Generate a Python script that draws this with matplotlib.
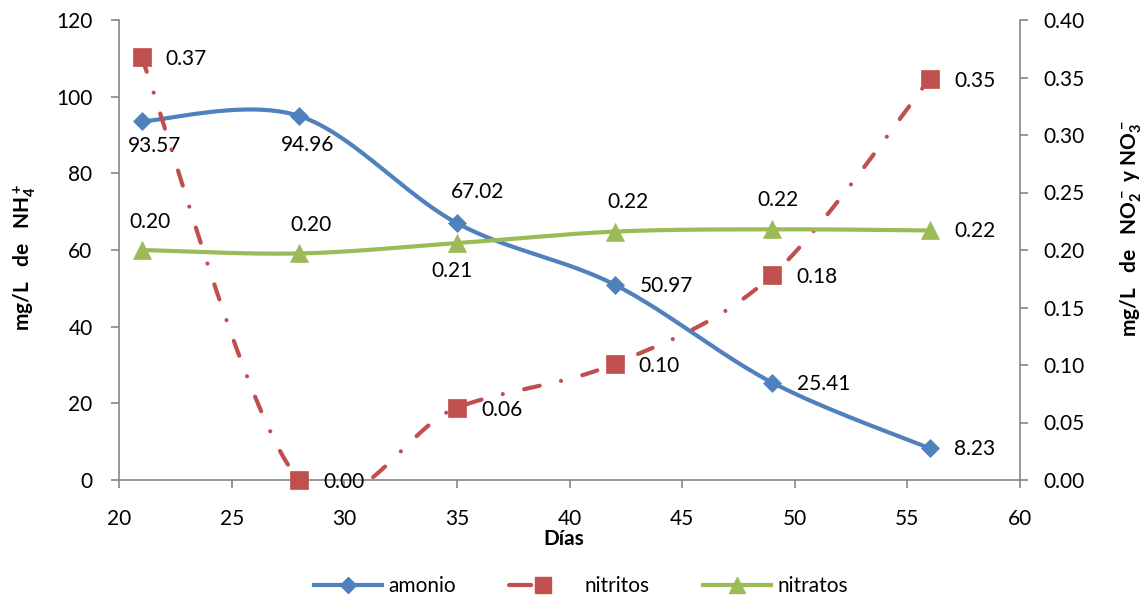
import numpy as np
import matplotlib
matplotlib.use("Agg")
import matplotlib.pyplot as plt
from matplotlib.lines import Line2D
from matplotlib.ticker import FormatStrFormatter

plt.rcParams['font.family'] = ['Lato', 'DejaVu Sans']
plt.rcParams['mathtext.fontset'] = 'custom'
plt.rcParams['mathtext.rm'] = 'Lato'
plt.rcParams['mathtext.bf'] = 'Lato:bold'
plt.rcParams['lines.scale_dashes'] = False

# ---- data ----
dias = [21, 28, 35, 42, 49, 56]
amonio = [93.57, 94.96, 67.02, 50.97, 25.41, 8.23]
nitritos = [0.368, 0.00, 0.063, 0.101, 0.178, 0.349]
nitratos = [0.200, 0.197, 0.206, 0.216, 0.218, 0.217]

x_ticks = [20, 25, 30, 35, 40, 45, 50, 55, 60]
left_ticks = [0, 20, 40, 60, 80, 100, 120]
right_ticks = [0.00, 0.05, 0.10, 0.15, 0.20, 0.25, 0.30, 0.35, 0.40]

# ---- style ----
C_AMO = '#4F81BD'
C_NI2 = '#C0504D'
C_NI3 = '#9BBB59'
AXIS_GRAY = '#868686'
FS = 15
LW = 3.0

# label placement per point: (mode, dx_px, dy_px); dy positive = downwards
pos_amonio = [('c', 13, 25), ('c', 8, 29), ('c', 21, -31),
              ('r', 25, 1), ('r', 25, 1), ('r', 24, 1)]
pos_nitritos = [('r', 24, 2)] * 6
pos_nitratos = [('c', 8, -28), ('c', 12, -28), ('c', -5, 28),
                ('c', 13, -30), ('c', 6, -29), ('r', 24, 1)]


def smooth_path(x, y, n=60):
    """Cubic Bezier smoothing through every point (Catmull-Rom control points)."""
    pts = np.column_stack([x, y]).astype(float)
    out = []
    for i in range(len(pts) - 1):
        p0 = pts[i - 1] if i > 0 else pts[i]
        p1, p2 = pts[i], pts[i + 1]
        p3 = pts[i + 2] if i + 2 < len(pts) else pts[i + 1]
        c1 = p1 + (p2 - p0) / 6.0
        c2 = p2 - (p3 - p1) / 6.0
        t = np.linspace(0, 1, n)[:, None]
        seg = ((1 - t) ** 3) * p1 + 3 * ((1 - t) ** 2) * t * c1 \
            + 3 * (1 - t) * t ** 2 * c2 + t ** 3 * p2
        out.append(seg if i == 0 else seg[1:])
    return np.vstack(out)


def put_labels(axis, xs, ys, fmt, places):
    for xv, yv, (mode, dx, dy) in zip(xs, ys, places):
        ha = 'left' if mode == 'r' else 'center'
        axis.annotate(fmt.format(yv), (xv, yv),
                      xytext=(dx * 0.72, -dy * 0.72), textcoords='offset points',
                      ha=ha, va='center', fontsize=FS, color='black',
                      annotation_clip=False, zorder=6)


W, H = 1143, 598
fig = plt.figure(figsize=(W / 100, H / 100), dpi=100)
ax = fig.add_axes([119 / W, 1 - 480 / H, (1020 - 119) / W, 460 / H])
ax2 = ax.twinx()

# amonio (left axis)
s = smooth_path(dias, amonio)
ax.plot(s[:, 0], s[:, 1], color=C_AMO, lw=LW, solid_capstyle='round', zorder=3)
ax.plot(dias, amonio, ls='none', marker='D', ms=8.7, color=C_AMO,
        mec=C_AMO, mew=0.5, clip_on=False, zorder=4)
put_labels(ax, dias, amonio, '{:.2f}', pos_amonio)

# nitritos (right axis)
dash_pat = (0, (11.4, 15.8, 0.01, 15.8))
s = smooth_path(dias, nitritos)
ax2.plot(s[:, 0], s[:, 1], color=C_NI2, lw=LW, ls=dash_pat,
         dash_capstyle='round', zorder=3)
ax2.plot(dias, nitritos, ls='none', marker='s', ms=12.5, color=C_NI2,
         mec=C_NI2, mew=0.5, clip_on=False, zorder=4)
put_labels(ax2, dias, nitritos, '{:.2f}', pos_nitritos)

# nitratos (right axis)
s = smooth_path(dias, nitratos)
ax2.plot(s[:, 0], s[:, 1], color=C_NI3, lw=LW, solid_capstyle='round', zorder=3)
ax2.plot(dias, nitratos, ls='none', marker='^', ms=13, color=C_NI3,
         mec=C_NI3, mew=0.5, clip_on=False, zorder=4)
put_labels(ax2, dias, nitratos, '{:.2f}', pos_nitratos)

# axes
ax.set_xlim(20, 60)
ax.set_ylim(0, 120)
ax2.set_ylim(0, 0.40)
ax.set_xticks(x_ticks)
ax.set_yticks(left_ticks)
ax2.set_yticks(right_ticks)
ax2.yaxis.set_major_formatter(FormatStrFormatter('%.2f'))

for a in (ax, ax2):
    a.patch.set_visible(False)
    a.spines['top'].set_visible(False)
    for sp in a.spines.values():
        sp.set_color(AXIS_GRAY)
        sp.set_linewidth(1.2)
ax.spines['right'].set_visible(False)
ax2.spines['left'].set_visible(False)
ax2.spines['bottom'].set_visible(False)

ax.tick_params(axis='x', direction='out', length=6, width=1.2, color=AXIS_GRAY,
               labelsize=FS, pad=15)
ax.tick_params(axis='y', direction='out', length=6, width=1.2, color=AXIS_GRAY,
               labelsize=FS, pad=13)
ax2.tick_params(axis='y', direction='out', length=6, width=1.2, color=AXIS_GRAY,
                labelsize=FS, pad=11)

ax.set_xlabel('Días', fontsize=15, fontweight='bold', va='center')
ax.xaxis.set_label_coords((564 - 119) / 901, -(539 - 480) / 460)
ax.set_ylabel(r'mg/L   de   $\mathbf{NH_4^+}$', fontsize=15, fontweight='bold',
              va='center')
ax.yaxis.set_label_coords((25 - 119) / 901, (480 - 257) / 460)
ax2.set_ylabel(r'mg/L   de   $\mathbf{NO_2^-}$ y $\mathbf{NO_3^-}$', fontsize=15,
               fontweight='bold', va='center')
ax2.yaxis.set_label_coords((1131 - 119) / 901, (480 - 228) / 460)

# legend
handles = [
    Line2D([], [], color=C_AMO, lw=LW, marker='D', ms=8, mec=C_AMO),
    Line2D([], [], color=C_NI2, lw=LW, ls=(0, (16, 60)), dash_capstyle='round',
           marker='s', ms=12, mec=C_NI2),
    Line2D([], [], color=C_NI3, lw=LW, marker='^', ms=12, mec=C_NI3),
]
fig.legend(handles, ['amonio', 'nitritos', 'nitratos'], loc='center',
           bbox_to_anchor=(581 / W, 1 - 586 / H), ncol=3, frameon=False,
           fontsize=FS, handlelength=3.26, handletextpad=0.34, columnspacing=2.55)

fig.savefig('out.png', dpi=100)
